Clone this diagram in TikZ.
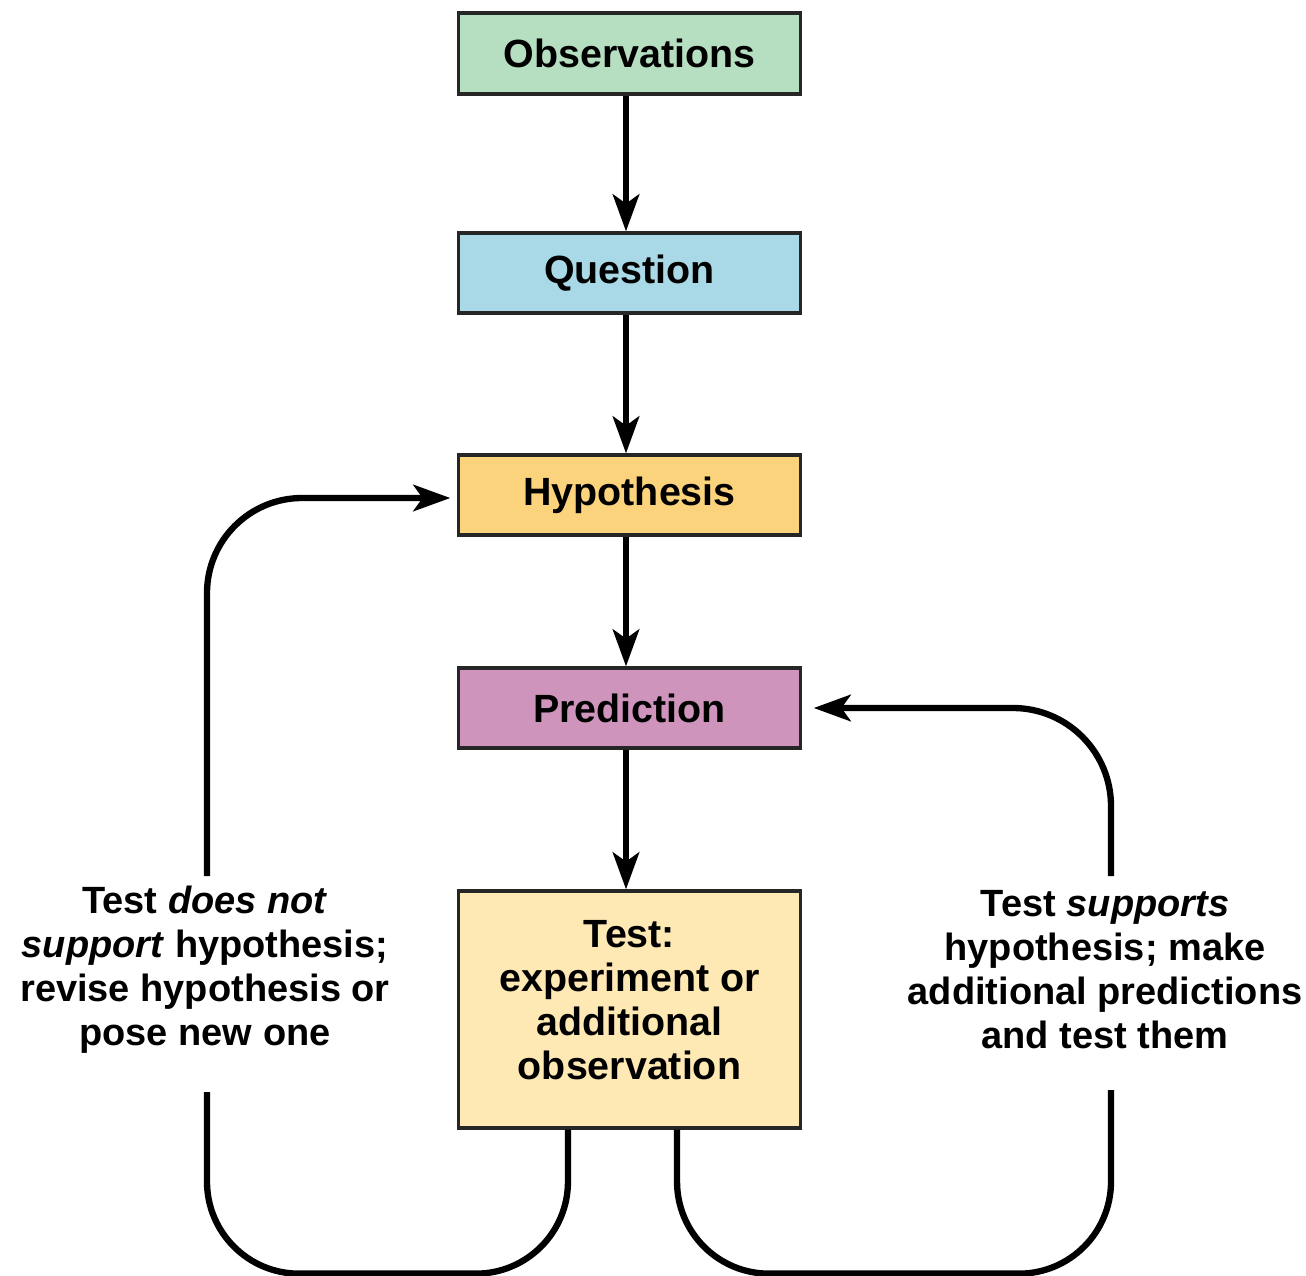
\documentclass[tikz,border=0pt]{standalone}
\usepackage{fontspec}
\setmainfont{Liberation Sans}
\usetikzlibrary{arrows.meta,calc}
\definecolor{cobs}{HTML}{B6DEC1}
\definecolor{cque}{HTML}{A9D9E6}
\definecolor{chyp}{HTML}{FBD37C}
\definecolor{cpre}{HTML}{CE94BC}
\definecolor{ctst}{HTML}{FEE8B4}
\tikzset{
  stepbox/.style={draw=black!85, line width=0.9pt, minimum width=3.41cm, minimum height=0.80cm, inner sep=0pt,
    font=\fontsize{11.2}{12.5}\selectfont\bfseries},
  txt/.style={align=center, inner sep=0pt, font=\fontsize{11.2}{12.5}\selectfont\bfseries},
  sidetxt/.style={align=center, inner sep=0pt, font=\fontsize{10.8}{12.5}\selectfont\bfseries},
  conn/.style={line width=1.8pt, -{Stealth[length=10.5pt,width=7.5pt,inset=2.6pt]}},
  loopline/.style={line width=1.8pt, rounded corners=0.92cm},
}
\begin{document}
\begin{tikzpicture}[x=0.01cm,y=-0.01cm]
\useasboundingbox (0,0) rectangle (1306,1276);
\node[stepbox, fill=cobs, minimum height=0.81cm] (obs) at (629.5,53.5) {Observations};
\node[stepbox, fill=cque] (que) at (629.5,273) {Question};
\node[stepbox, fill=chyp] (hyp) at (629.5,495) {Hypothesis};
\node[stepbox, fill=cpre] (pre) at (629.5,708) {Prediction};
\node[stepbox, fill=ctst, minimum height=2.37cm] (tst) at (629.5,1009.5) {};
\node[txt] (tsttxt) at (629.5,1000) {Test:\\experiment or\\additional\\observation};

\draw[conn] ([xshift=-0.035cm]obs.south) -- ([xshift=-0.035cm]que.north);
\draw[conn] ([xshift=-0.035cm]que.south) -- ([xshift=-0.035cm]hyp.north);
\draw[conn] ([xshift=-0.035cm]hyp.south) -- ([xshift=-0.035cm]pre.north);
\draw[conn] ([xshift=-0.035cm]pre.south) -- ([xshift=-0.035cm]tst.north);

\node[sidetxt] (lbl) at (205,970) {Test \textit{does not}\\\textit{support} hypothesis;\\revise hypothesis or\\pose new one};
\node[sidetxt] (rbl) at (1105,970) {Test \textit{supports}\\hypothesis; make\\additional predictions\\and test them};

\coordinate (lgapbot) at (207,1092);
\coordinate (lgaptop) at (207,876);
\coordinate (rgapbot) at (1111,1090);
\coordinate (rgaptop) at (1111,876);

\draw[loopline] ([xshift=-0.615cm]tst.south) -- ++(0,144) -| (lgapbot);
\draw[loopline] ([xshift=0.475cm]tst.south) -- ++(0,144) -| (rgapbot);
\draw[conn, rounded corners=0.95cm, shorten >=0.07cm] (lgaptop) |- ([yshift=-0.03cm]hyp.west);
\draw[conn, rounded corners=0.98cm, shorten >=0.12cm] (rgaptop) |- (pre.east);
\end{tikzpicture}
\end{document}
